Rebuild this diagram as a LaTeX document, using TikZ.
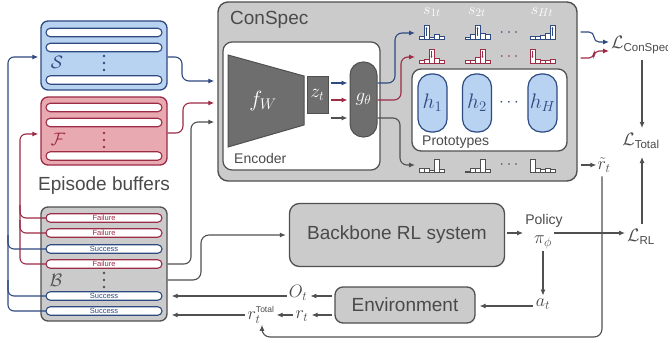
\RequirePackage{fix-cm}
\documentclass[tikz,border=0pt]{standalone}
\usepackage{fontspec}
\setsansfont{Liberation Sans}
\usetikzlibrary{shapes.misc,arrows.meta}
\definecolor{bluec}{HTML}{2E4A80}
\definecolor{bluef}{HTML}{B8D2F1}
\definecolor{redc}{HTML}{9C2B45}
\definecolor{redf}{HTML}{E8A9B1}
\definecolor{grayf}{HTML}{CBCBCB}
\definecolor{grayc}{HTML}{505050}
\definecolor{darkf}{HTML}{6E6E6E}
\definecolor{txt}{HTML}{4A4A4A}
\newcommand{\fs}[1]{\fontsize{#1}{#1}\selectfont}
\newcommand{\hst}[4]{%
  \foreach \h [count=\i from 0] in {#4}{%
    \draw[#3, fill=white, line width=0.7pt] ({#1+\i*5},#2) rectangle ++(5,-\h);}}
\newcommand{\hmkup}[4]{\draw[#3, line width=0.5pt, -{Latex[length=2pt,width=2pt]}] ({#1+#4*5+2.5},{#2-3}) -- ({#1+#4*5+2.5},{#2-12});}
\newcommand{\hmkdn}[4]{\draw[#3, line width=0.5pt, -{Latex[length=2pt,width=2pt]}] ({#1+#4*5+2.5},{#2-12}) -- ({#1+#4*5+2.5},{#2-5});}
\begin{document}
\begin{tikzpicture}[x=1pt,y=-1pt,
  arr/.style={-{Latex[length=6pt,width=5pt]}, line width=1.1pt},
  buf/.style={draw, rounded corners=7pt, line width=1.3pt, minimum width=126pt, inner sep=0pt},
  pill/.style={draw, rounded rectangle, fill=white, minimum width=116pt, minimum height=8.5pt, inner sep=0pt, line width=1.1pt, font=\sffamily\fs{7.5}},
  lbl/.style={inner sep=0pt, text=txt},
  proto/.style={draw=bluec, fill=bluef, rounded corners=13pt, minimum width=29pt, minimum height=58pt, line width=1.2pt, inner sep=0pt, text=bluec, font=\fs{21}},
  ]
\useasboundingbox (0,0) rectangle (668,342);
\fill[white] (0,0) rectangle (668,342);

% ---------------- episode buffers ----------------
\node[buf, draw=bluec, fill=bluef, minimum height=69pt] (S) at (104,55.5) {};
\node[pill, draw=bluec] (s1) at (104,32.5) {};
\node[pill, draw=bluec] (s2) at (104,47.5) {};
\node[pill, draw=bluec] (s3) at (104,80) {};
\node[lbl, text=bluec] (Slab) at (57,62) {\fs{18}$\mathcal{S}$};
\foreach \yy in {56,63,70} \fill[bluec] (104,\yy) circle (1.3);

\node[buf, draw=redc, fill=redf, minimum height=68pt] (F) at (104,131) {};
\node[pill, draw=redc] (f1) at (104,107.5) {};
\node[pill, draw=redc] (f2) at (104,122.5) {};
\node[pill, draw=redc] (f3) at (104,156) {};
\node[lbl, text=redc] (Flab) at (58,139) {\fs{18}$\mathcal{F}$};
\foreach \yy in {133,140,147} \fill[redc] (104,\yy) circle (1.3);

\node[lbl, font=\sffamily\fs{19}] (EB) at (104,186) {Episode buffers};

\node[buf, draw=grayc, fill=grayf, minimum height=114pt] (B) at (104,264) {};
% feedback lines
\draw[arr, bluec, rounded corners=6pt, shorten >=2pt] (104,311) -- (8,311) -- (8,57) -- (S.west |- 0,57);
\draw[bluec, line width=1.1pt, rounded corners=6pt] (104,296) -- (8,296) -- (8,280);
\draw[bluec, line width=1.1pt, rounded corners=6pt] (104,249) -- (8,249) -- (8,235);
\draw[arr, redc, rounded corners=6pt, shorten >=2pt] (104,264) -- (20,264) -- (20,134) -- (F.west |- 0,134);
\draw[redc, line width=1.1pt, rounded corners=6pt] (104,233) -- (20,233) -- (20,220);
\draw[redc, line width=1.1pt, rounded corners=6pt] (104,218) -- (20,218) -- (20,205);
\node[pill, draw=redc, text=redc] (b1) at (104,218) {Failure};
\node[pill, draw=redc, text=redc] (b2) at (104,233) {Failure};
\node[pill, draw=bluec, text=bluec] (b3) at (104,249) {Success};
\node[pill, draw=redc, text=redc] (b4) at (104,264) {Failure};
\node[pill, draw=bluec, text=bluec] (b5) at (104,296) {Success};
\node[pill, draw=bluec, text=bluec] (b6) at (104,311) {Success};
\node[lbl, text=grayc] (Blab) at (56,280) {\fs{18}$\mathcal{B}$};
\foreach \yy in {273,280,287} \fill[grayc] (104,\yy) circle (1.3);

% ---------------- ConSpec ----------------
\node[draw=grayc, fill=grayf, rounded corners=10pt, line width=1.4pt, minimum width=359pt, minimum height=179pt, inner sep=0pt] (CS) at (397.5,91.5) {};
\node[lbl, font=\sffamily\fs{19}, anchor=west] (CSt) at (230,20) {ConSpec};
\node[draw=grayc, fill=white, rounded corners=9pt, line width=1.2pt, minimum width=157pt, minimum height=128pt, inner sep=0pt] (EN) at (301.5,106) {};
\node[lbl, font=\sffamily\fs{14}, anchor=west] (ENt) at (234,158) {Encoder};
\draw[grayc, fill=darkf, line width=1pt] (228,55) -- (304,76) -- (304,125) -- (228,147) -- cycle;
\node[lbl, text=white] (fw) at (263,101) {\fs{22}$f_W$};
\node[draw=grayc, fill=darkf, minimum width=21pt, minimum height=36pt, inner sep=0pt, line width=1pt, text=white] (z) at (317.5,95) {\fs{19}$z_t$};
\node[draw=grayc, fill=darkf, rounded corners=13pt, minimum width=27pt, minimum height=75pt, inner sep=0pt, line width=1pt, text=white] (g) at (363.5,99.5) {\fs{19}$g_\theta$};

\draw[arr, bluec, shorten <=2pt, shorten >=2pt] (z.east |- 0,83) -- (g.west |- 0,83);
\draw[arr, redc, shorten <=2pt, shorten >=2pt] (z.east |- 0,100) -- (g.west |- 0,100);
\draw[arr, grayc, shorten <=2pt, shorten >=2pt] (z.east |- 0,118) -- (g.west |- 0,118);

% score histograms
\coordinate (hb) at (415,33);
\coordinate (hr) at (415,57);
\coordinate (hg) at (415,165);
\draw[arr, bluec, rounded corners=7pt] (g.east |- 0,83) -- (395,83) -- (395,33) -- (hb);
\draw[arr, redc, rounded corners=7pt] (g.east |- 0,100) -- (401,100) -- (401,57) -- (hr);
\draw[arr, grayc, rounded corners=7pt] (g.east |- 0,118) -- (400,118) -- (400,165) -- (hg);

\node[lbl, text=white] (s1t) at (432,12) {\fs{16}$s_{1t}$};
\node[lbl, text=white] (s2t) at (477,12) {\fs{16}$s_{2t}$};
\node[lbl, text=white] (sHt) at (542,12) {\fs{16}$s_{Ht}$};

\hst{419}{39}{bluec}{3,14,2,5,3}
\hst{465}{39}{bluec}{2,5,14,6,5}
\hst{530}{39}{bluec}{3,3,4,6,14}
\hmkup{419}{39}{bluec}{1}
\hmkup{465}{39}{bluec}{2}
\hmkup{530}{39}{bluec}{4}
\node[lbl, text=bluec] (db) at (509,33) {\fs{16}$\cdots$};

\hst{419}{63}{redc}{3,4,14,5,3}
\hst{465}{63}{redc}{3,3,6,14,3}
\hst{530}{63}{redc}{14,4,3,3,4}
\hmkdn{419}{63}{redc}{2}
\hmkdn{465}{63}{redc}{3}
\hmkdn{530}{63}{redc}{0}
\node[lbl, text=redc] (dr) at (509,57) {\fs{16}$\cdots$};

\hst{419}{172}{grayc}{4,4,2,13,3}
\hst{465}{172}{grayc}{1,4,4,13,3}
\hst{530}{172}{grayc}{13,4,3,4,3}
\node[lbl, text=grayc] (dg) at (509,165) {\fs{16}$\cdots$};

% prototypes
\node[draw=grayc, fill=white, rounded corners=9pt, line width=1.3pt, minimum width=155pt, minimum height=82pt, inner sep=0pt] (PR) at (489.5,110) {};
\node[proto] (h1) at (432.5,103) {$h_1$};
\node[proto] (h2) at (477,103) {$h_2$};
\node[proto] (hH) at (542.5,103) {$h_H$};
\node[lbl, text=bluec] (dh) at (509,103) {\fs{17}$\cdots$};
\node[lbl, font=\sffamily\fs{14}, anchor=west] (PRt) at (422,142) {Prototypes};

% inputs to ConSpec
\draw[arr, bluec, rounded corners=7pt, shorten >=3pt] (S.east |- 0,57) -- (182,57) -- (182,81) -- (CS.west |- 0,81);
\draw[arr, redc, rounded corners=7pt, shorten >=3pt] (F.east |- 0,133) -- (183,133) -- (183,103) -- (CS.west |- 0,103);
\draw[arr, grayc, rounded corners=7pt, shorten >=3pt] (B.east |- 0,264) -- (191,264) -- (191,122) -- (CS.west |- 0,122);

% ---------------- losses ----------------
\node[lbl, anchor=west] (LC) at (611,45) {\fs{18}$\mathcal{L}_{\mbox{\sffamily\fs{11.5}ConSpec}}$};
\node[lbl] (LT) at (641,141) {\fs{18}$\mathcal{L}_{\mbox{\sffamily\fs{11.5}Total}}$};
\node[lbl] (LR) at (641,237) {\fs{18}$\mathcal{L}_{\mbox{\sffamily\fs{11.5}RL}}$};
\node[lbl] (rt) at (604,165) {\fs{18}$\tilde r_t$};

\draw[arr, bluec, rounded corners=5pt, shorten <=3pt, shorten >=2pt] (CS.east |- 0,32) -- (594,32) -- (594,42) -- (LC.west |- 0,42);
\draw[arr, redc, rounded corners=5pt, shorten <=3pt, shorten >=2pt] (CS.east |- 0,58) -- (594,58) -- (594,51) -- (LC.west |- 0,51);
\draw[arr, grayc, shorten <=3pt, shorten >=1pt] (CS.east |- rt.west) -- (rt.west);
\draw[arr, grayc] (642,60) -- (642,128);
\draw[arr, grayc] (642,224) -- (642,157);

% ---------------- RL loop ----------------
\node[draw=grayc, fill=grayf, rounded corners=10pt, line width=1.3pt, minimum width=215pt, minimum height=63pt, font=\sffamily\fs{19}, text=txt] (BB) at (397,235) {Backbone RL system};
\node[draw=grayc, fill=grayf, rounded corners=8pt, line width=1.3pt, minimum width=140pt, minimum height=36pt, font=\sffamily\fs{19}, text=txt] (ENV) at (405,305) {Environment};
\node[lbl, font=\sffamily\fs{14}] (pol) at (544,221) {Policy};
\node[lbl] (pi) at (543,242) {\fs{18}$\pi_\phi$};
\node[lbl] (at) at (543,304) {\fs{18}$a_t$};
\node[lbl] (Ot) at (298,293) {\fs{18}$O_t$};
\node[lbl] (rr) at (302,316) {\fs{18}$r_t$};
\node[lbl] (rT) at (261,315) {\fs{18}$r_t^{\mbox{\sffamily\fs{8.5}Total}}$};

\draw[arr, grayc, rounded corners=8pt, shorten >=3pt] (B.east |- 0,280) -- (201,280) -- (201,235) -- (BB.west);
\draw[arr, grayc, shorten <=2pt, shorten >=2pt] (BB.east |- 0,233) -- (pol.west |- 0,233);
\draw[arr, grayc, shorten <=2pt, shorten >=2pt] (pi.east |- 0,233) -- (LR.west |- 0,233);
\draw[arr, grayc, shorten <=2pt, shorten >=3pt] (pi.south) -- (at.north);
\draw[arr, grayc, shorten <=3pt, shorten >=4pt] (at.west |- 0,306) -- (ENV.east |- 0,306);
\draw[arr, grayc, shorten <=2pt, shorten >=3pt] (ENV.west |- 0,296) -- (Ot.east |- 0,296);
\draw[arr, grayc, shorten <=2pt, shorten >=4pt] (Ot.west |- 0,296) -- (B.east |- 0,296);
\draw[arr, grayc, shorten <=2pt, shorten >=3pt] (ENV.west |- 0,315) -- (rr.east |- 0,315);
\draw[arr, grayc, shorten <=2pt, shorten >=2pt] (rr.west |- 0,315) -- (rT.east |- 0,315);
\draw[arr, grayc, shorten <=2pt, shorten >=4pt] (rT.west |- 0,315) -- (B.east |- 0,315);
\draw[arr, grayc, rounded corners=8pt, shorten <=4pt, shorten >=1pt] (rt.south -| 602,0) -- (602,337) -- (262,337) -- (rT.south -| 262,0);
\end{tikzpicture}
\end{document}
